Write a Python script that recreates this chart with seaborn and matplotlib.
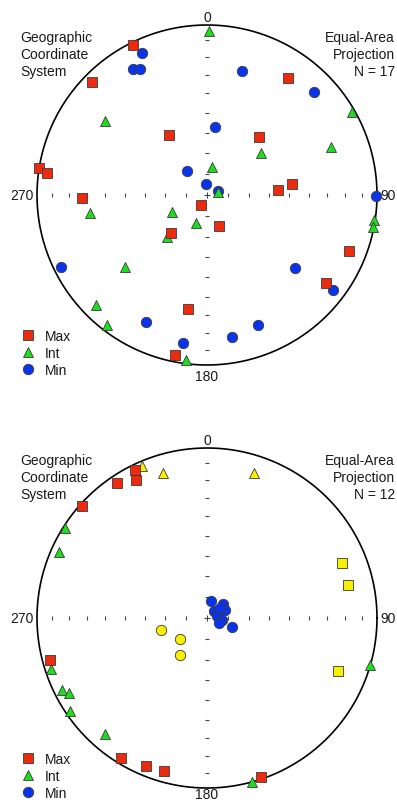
import numpy as np
import pandas as pd
import matplotlib
matplotlib.use("Agg")
import matplotlib.pyplot as plt
from matplotlib.lines import Line2D
import seaborn as sns

sns.set_theme(style="white")
plt.rcParams["font.family"] = ["Liberation Sans", "DejaVu Sans"]

# ---------------- data (trend, plunge in degrees) ----------------
# Upper net, N = 17
top_max_trend = [333.7, 314.5, 34.7, 327.7, 41.9, 279.1, 277.8, 82.6, 86.0,
                 268.6, 211.0, 158.8, 223.5, 111.5, 126.5, 189.5, 191.3]
top_max_plunge = [1.7, 5.8, 17.4, 55.6, 52.2, 0.0, 5.6, 48.3, 55.5,
                  27.3, 84.4, 74.1, 64.8, 11.2, 14.0, 32.5, 4.5]
top_int_trend = [0.7, 306.0, 60.2, 68.8, 52.1, 10.1, 74.7, 261.3, 244.1,
                 201.4, 223.6, 98.5, 100.9, 228.7, 225.3, 217.6, 187.3]
top_int_plunge = [4.0, 26.7, 1.8, 22.8, 56.9, 76.4, 84.5, 31.0, 71.3,
                  75.6, 62.1, 0.8, 0.6, 36.2, 8.9, 4.0, 2.3]
top_min_trend = [335.4, 329.6, 332.0, 15.8, 46.1, 6.7, 320.2, 354.8, 70.0,
                 90.3, 243.7, 129.7, 127.0, 205.7, 158.6, 170.0, 189.2]
top_min_plunge = [8.9, 15.0, 17.2, 25.1, 13.7, 56.8, 75.0, 84.7, 84.4,
                  1.0, 4.7, 33.3, 8.0, 18.2, 19.0, 16.2, 12.9]

# Lower net, N = 12 (9 accepted + 3 rejected specimens in yellow)
bot_max_trend = [334.1, 332.8, 326.3, 311.9, 255.0, 211.6, 202.4, 195.7, 161.2]
bot_max_plunge = [3.6, 9.6, 5.2, 1.4, 5.0, 3.8, 6.5, 7.2, 1.3]
bot_int_trend = [302.4, 294.1, 251.9, 243.6, 241.5, 235.8, 221.3, 164.7, 106.0]
bot_int_plunge = [1.2, 5.3, 4.0, 5.4, 8.4, 2.9, 10.0, 0.0, 0.0]
bot_min_trend = [13.2, 48.8, 66.0, 45.0, 78.7, 97.6, 112.6, 109.8, 52.4]
bot_min_plunge = [81.7, 79.8, 80.6, 85.3, 85.1, 82.8, 83.8, 77.3, 82.1]
rej_max_trend = [67.8, 76.8, 112.0]
rej_max_plunge = [15.2, 15.8, 18.0]
rej_int_trend = [336.8, 343.1, 18.0]
rej_int_plunge = [3.1, 11.9, 11.3]
rej_min_trend = [255.4, 232.1, 216.1]
rej_min_plunge = [67.1, 73.6, 67.9]

tick_plunges = [10, 20, 30, 40, 50, 60, 70, 80]
axis_labels = ["0", "90", "180", "270"]
legend_labels = ["Max", "Int", "Min"]
left_text = "Geographic\nCoordinate\nSystem"
right_top = "Equal-Area\nProjection\nN = 17"
right_bot = "Equal-Area\nProjection\nN = 12"

# ---------------- styling ----------------
RED, GREEN, BLUE, YELLOW = "#EC2A0E", "#1EDC1E", "#0A34EB", "#F8F000"
EDGE = "#3a3a3a"
TXT = "#1a1a1a"
FS = 10

W, H = 397, 803
CX, R = 207, 170
CY1, CY2 = 196, 619
SPLIT = 401


def project(trend, plunge):
    t = np.radians(np.asarray(trend, float))
    p = np.radians(np.asarray(plunge, float))
    r = np.sqrt(2) * np.sin((np.pi / 2 - p) / 2)
    return r * np.sin(t), r * np.cos(t)


def frame(trend, plunge):
    x, y = project(trend, plunge)
    return pd.DataFrame({"x": x, "y": y})


fig = plt.figure(figsize=(W / 100, H / 100), dpi=100)
ax1 = fig.add_axes([0, 1 - SPLIT / H, 1, SPLIT / H])
ax2 = fig.add_axes([0, 0, 1, (H - SPLIT) / H])
ax1.set_xlim(-CX / R, (W - CX) / R)
ax1.set_ylim((CY1 - SPLIT) / R, CY1 / R)
ax2.set_xlim(-CX / R, (W - CX) / R)
ax2.set_ylim((CY2 - H) / R, (CY2 - SPLIT) / R)


def px(cy, x, y):
    return (x - CX) / R, (cy - y) / R


def draw_net(ax, cy, rtext, groups, bottom_label_y):
    th = np.linspace(0, 2 * np.pi, 721)
    ax.plot(np.cos(th), np.sin(th), color="black", lw=1.2, zorder=2)
    rr = np.sqrt(2) * np.sin(np.radians((90 - np.array(tick_plunges)) / 2))
    ax.plot(np.r_[rr, -rr], np.zeros(2 * len(rr)), ls="none", marker="|",
            ms=3.2, mew=0.8, color="#444444", zorder=1)
    ax.plot(np.zeros(2 * len(rr)), np.r_[rr, -rr], ls="none", marker="_",
            ms=3.2, mew=0.8, color="#444444", zorder=1)
    ax.plot([0], [0], ls="none", marker="+", ms=5, mew=0.8, color="#444444", zorder=1)

    kw = dict(ha="center", va="center", fontsize=FS, color=TXT)
    ax.text(*px(cy, 207, cy - 178), axis_labels[0], **kw)
    ax.text(*px(cy, 388, cy), axis_labels[1], **kw)
    ax.text(*px(cy, 207, bottom_label_y), axis_labels[2], **kw)
    ax.text(*px(cy, 22, cy), axis_labels[3], **kw)
    ax.text(*px(cy, 20, cy - 165), left_text, ha="left", va="top",
            fontsize=FS, color=TXT, linespacing=1.27)
    ax.text(*px(cy, 395, cy - 165), rtext, ha="right", va="top",
            fontsize=FS, color=TXT, linespacing=1.27, multialignment="right")

    for (tr, pl, marker, col, s, z) in groups:
        d = frame(tr, pl)
        sns.scatterplot(data=d, x="x", y="y", ax=ax, marker=marker, color=col,
                        s=s, edgecolor=EDGE, linewidth=0.6, zorder=z, legend=False)
    ax.set_axis_off()


sq, tri, cir = 44, 52, 56
draw_net(ax1, CY1, right_top, [
    (top_min_trend, top_min_plunge, "o", BLUE, cir, 3),
    (top_int_trend, top_int_plunge, "^", GREEN, tri, 4),
    (top_max_trend, top_max_plunge, "s", RED, sq, 5),
], 377)
draw_net(ax2, CY2, right_bot, [
    (rej_min_trend, rej_min_plunge, "o", YELLOW, cir, 3),
    (rej_int_trend, rej_int_plunge, "^", YELLOW, tri, 3),
    (rej_max_trend, rej_max_plunge, "s", YELLOW, sq, 3),
    (bot_min_trend, bot_min_plunge, "o", BLUE, cir, 4),
    (bot_int_trend, bot_int_plunge, "^", GREEN, tri, 5),
    (bot_max_trend, bot_max_plunge, "s", RED, sq, 6),
], 795)

leg_handles = [
    Line2D([], [], ls="none", marker="s", ms=6.6, mfc=RED, mec=EDGE, mew=0.6),
    Line2D([], [], ls="none", marker="^", ms=7.2, mfc=GREEN, mec=EDGE, mew=0.6),
    Line2D([], [], ls="none", marker="o", ms=7.5, mfc=BLUE, mec=EDGE, mew=0.6),
]
for ax, ytop in ((ax1, 330), (ax2, 753)):
    ax.legend(leg_handles, legend_labels, loc="upper left",
              bbox_to_anchor=(21 / W, 1 - ytop / H), bbox_transform=fig.transFigure,
              frameon=False, fontsize=FS, handlelength=1.0, handletextpad=0.72,
              labelspacing=0.21, borderpad=0, borderaxespad=0,
              labelcolor=TXT)

fig.savefig("out.png", dpi=100, facecolor="white")
